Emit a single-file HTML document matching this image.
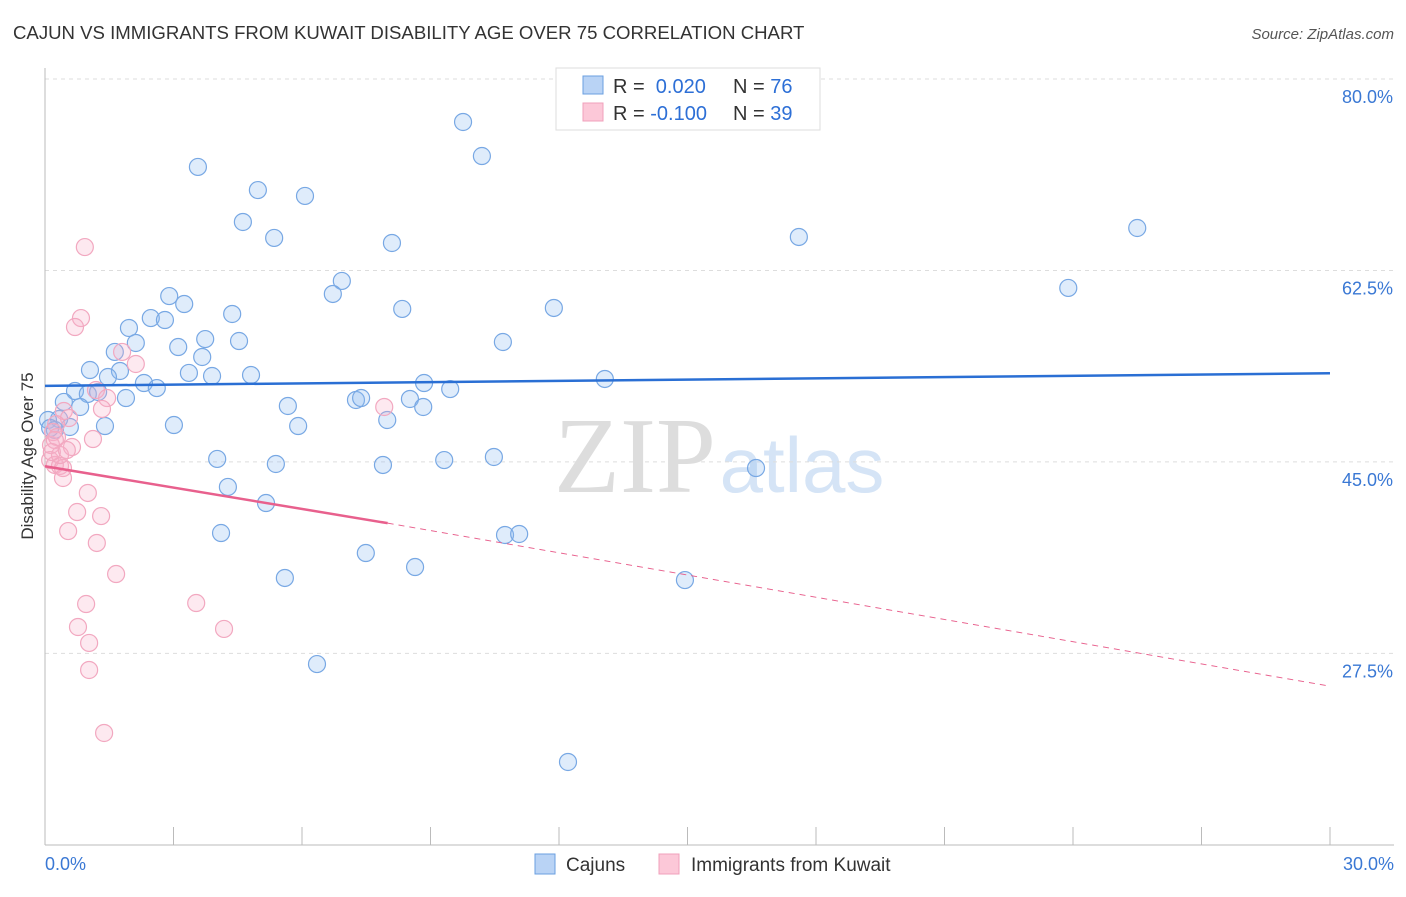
<!DOCTYPE html>
<html><head><meta charset="utf-8"><style>
body{margin:0;background:#fff;font-family:"Liberation Sans",sans-serif}
</style></head><body>
<svg id="c" width="1406" height="892" viewBox="0 0 1406 892" xmlns="http://www.w3.org/2000/svg" font-family="Liberation Sans, sans-serif">
<text x="13" y="39" font-size="18.6" fill="#333">CAJUN VS IMMIGRANTS FROM KUWAIT DISABILITY AGE OVER 75 CORRELATION CHART</text>
<text x="1394" y="39" font-size="15" fill="#555" text-anchor="end" font-style="italic">Source: ZipAtlas.com</text>
<text x="635" y="492" font-size="108" fill="#ddd" text-anchor="middle" font-family="Liberation Serif, serif">ZIP</text>
<text x="802" y="492" font-size="78" fill="#d5e4f6" text-anchor="middle">atlas</text>
<g id="grid"></g><g id="axes"></g><g id="pts"></g><g id="lines"></g>
<text transform="translate(33,456) rotate(-90)" font-size="17" fill="#333" text-anchor="middle">Disability Age Over 75</text>
<g>
<rect x="556" y="68" width="264" height="62" fill="#fff" stroke="#ddd"/>
<rect x="583" y="76" width="20" height="18" fill="#b9d3f5" stroke="#6a9fe0"/>
<text x="613" y="93" font-size="20" fill="#333">R = <tspan fill="#2d6fd6">&#160;0.020</tspan><tspan x="733">N = </tspan><tspan fill="#2d6fd6">76</tspan></text>
<rect x="583" y="103" width="20" height="18" fill="#fcc8d8" stroke="#f0a0bb"/>
<text x="613" y="120" font-size="20" fill="#333">R = <tspan fill="#2d6fd6">-0.100</tspan><tspan x="733">N = </tspan><tspan fill="#2d6fd6">39</tspan></text>
</g>
<g>
<rect x="535" y="854" width="20" height="20" fill="#b9d3f5" stroke="#6a9fe0"/>
<text x="566" y="871" font-size="19" fill="#333">Cajuns</text>
<rect x="659" y="854" width="20" height="20" fill="#fcc8d8" stroke="#f0a0bb"/>
<text x="691" y="871" font-size="19" fill="#333">Immigrants from Kuwait</text>
</g>
</svg>
<script>
const blueX=[9.76,10.20,3.57,4.97,6.07,4.62,5.35,8.10,17.60,25.50,23.89,6.93,6.72,2.90,3.25,8.34,11.88,2.47,2.80,4.37,1.96,3.74,4.53,2.12,3.11,10.69,1.63,3.67,1.05,1.75,3.36,1.47,3.90,4.81,13.07,2.31,2.61,0.70,8.85,9.46,1.00,1.24,1.89,0.44,5.67,7.26,7.38,8.52,8.83,0.82,0.33,0.07,7.99,3.01,5.91,1.40,0.58,0.23,0.12,4.02,5.39,7.89,9.32,10.48,16.60,4.27,5.16,4.11,10.74,11.07,7.49,8.64,5.60,14.94,6.35,12.21];
const blueY=[76.07,72.96,71.96,69.85,69.31,66.93,65.47,65.01,65.56,66.38,60.90,61.54,60.35,60.16,59.43,58.98,59.07,58.15,57.97,58.52,57.24,56.23,56.05,55.87,55.50,55.96,55.05,54.59,53.40,53.31,53.13,52.76,52.85,52.94,52.58,52.21,51.75,51.48,52.21,51.66,51.21,51.39,50.84,50.48,50.11,50.66,50.84,50.75,50.02,50.02,48.92,48.83,48.83,48.37,48.28,48.28,48.19,47.92,48.10,45.27,44.81,44.72,45.17,45.45,44.44,42.71,41.24,38.50,38.32,38.41,36.67,35.39,34.39,34.20,26.52,17.57];
const pinkX=[0.93,0.84,0.70,1.80,2.12,1.19,1.45,0.44,1.33,7.92,0.56,0.26,0.19,1.12,0.63,0.14,0.28,0.12,0.23,0.35,0.42,0.42,1.00,0.75,1.31,0.54,1.21,1.66,0.96,3.53,0.77,1.03,4.18,1.03,1.38,0.23,0.35,0.16,0.51];
const pinkY=[64.64,58.15,57.33,55.05,53.95,51.57,50.84,49.65,49.84,50.02,49.01,48.46,47.73,47.09,46.36,46.54,47.27,45.17,44.72,44.63,44.44,43.53,42.16,40.42,40.05,38.68,37.59,34.75,32.01,32.10,29.91,28.45,29.73,25.98,20.22,47.00,45.63,45.90,46.08];
const yTicks=[80.0,62.5,45.0,27.5];
const yTickLabels=["80.0%","62.5%","45.0%","27.5%"];
const xTicks=[0,3,6,9,12,15,18,21,24,27,30];
const blueTrend=[[0,51.95],[30,53.1]];
const pinkTrend=[[0,44.6],[8,39.4]];
const pinkTrendExt=[[8,39.4],[30,24.5]];
const NS="http://www.w3.org/2000/svg";
const X=v=>45+v*42.833, Y=v=>79+(80-v)*10.94;
function mk(tag,attrs,parent){const e=document.createElementNS(NS,tag);for(const k in attrs)e.setAttribute(k,attrs[k]);parent.appendChild(e);return e;}
const grid=document.getElementById('grid'),axes=document.getElementById('axes'),pts=document.getElementById('pts'),lines=document.getElementById('lines');
yTicks.forEach((t,i)=>{
 const l=mk('line',{x1:45,x2:1394,y1:Y(t),y2:Y(t),stroke:'#ddd','stroke-dasharray':'4,4'},grid);
 
 
 const tx=mk('text',{x:1393,y:Y(t)+24,'font-size':18,fill:'#3a78d4','text-anchor':'end'},grid);
 tx.textContent=yTickLabels[i];
 
 
});
const ya=mk('line',{x1:45,x2:45,y1:68,y2:845,stroke:'#bbb'},axes);


const xa=mk('line',{x1:45,x2:1394,y1:845,y2:845,stroke:'#bbb'},axes);


xTicks.forEach(t=>{
 const l=mk('line',{x1:X(t),x2:X(t),y1:827,y2:845,stroke:'#bbb'},axes);
 
 
});
[[0,"0.0%","start",45],[30,"30.0%","end",1394]].forEach(a=>{
 const tx=mk('text',{x:a[3],y:870,'font-size':18,fill:'#3a78d4','text-anchor':a[2]},axes);
 tx.textContent=a[1];
 
 
});
blueX.forEach((v,i)=>{
 const c=mk('circle',{cx:X(v),cy:Y(blueY[i]),r:8.5,fill:'rgba(140,185,240,0.28)',stroke:'#78a8e4','stroke-width':1.2},pts);
 
 
});
pinkX.forEach((v,i)=>{
 const c=mk('circle',{cx:X(v),cy:Y(pinkY[i]),r:8.5,fill:'rgba(248,175,200,0.28)',stroke:'#f2a8c0','stroke-width':1.2},pts);
 
 
});
function seg(p,attrs,name){const l=mk('line',Object.assign({x1:X(p[0][0]),y1:Y(p[0][1]),x2:X(p[1][0]),y2:Y(p[1][1])},attrs),lines);
 
 }
seg(blueTrend,{stroke:'#2a6fd4','stroke-width':2.5},'cajun-trend-line');
seg(pinkTrend,{stroke:'#e8608d','stroke-width':2.5},'kuwait-trend-line');
seg(pinkTrendExt,{stroke:'#e8608d','stroke-width':1,'stroke-dasharray':'6,5'},'kuwait-trend-extension');
</script>
</body></html>
